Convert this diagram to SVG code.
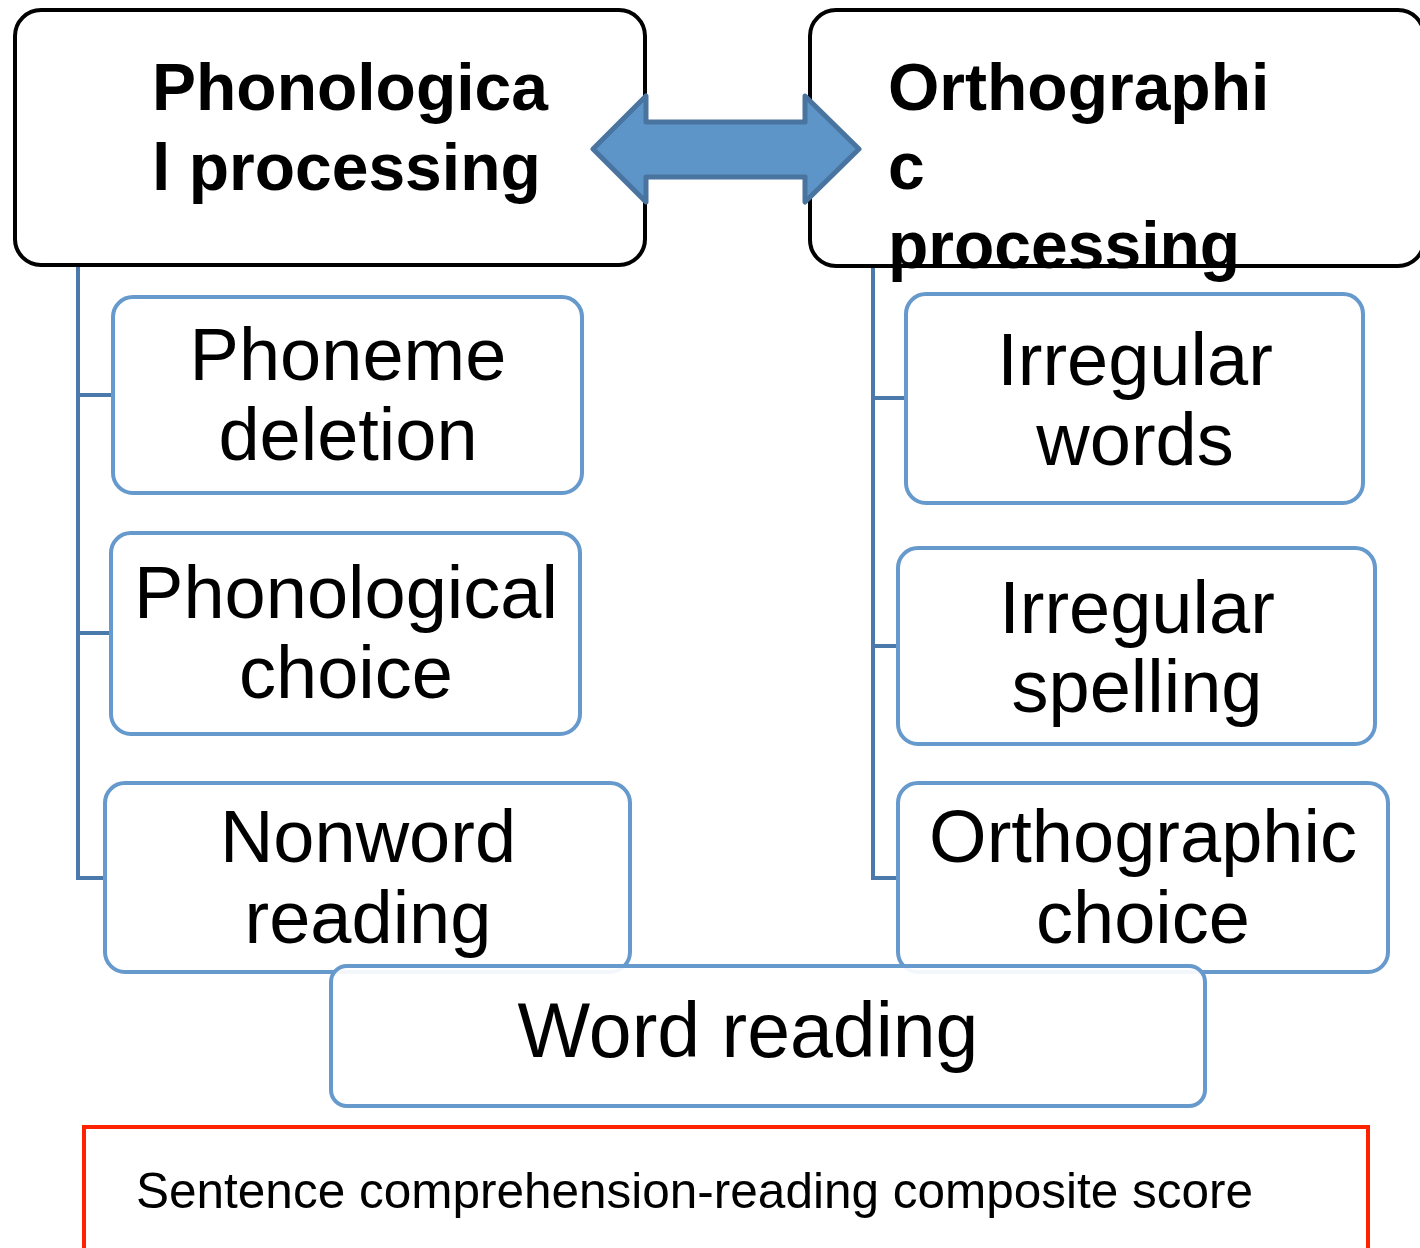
<svg xmlns="http://www.w3.org/2000/svg" width="1420" height="1248" viewBox="0 0 1420 1248">
<style>
.main{fill:#fff;stroke:#000;stroke-width:4}
.sub{fill:#fff;stroke:#6699cc;stroke-width:4}
.conn{fill:none;stroke:#4a7aab;stroke-width:4}
.hb{font-family:"Liberation Sans",Arial,sans-serif;font-weight:bold;font-size:66px;fill:#000}
.st{font-family:"Liberation Sans",Arial,sans-serif;font-size:74px;fill:#000;text-anchor:middle}
</style>
<rect width="1420" height="1248" fill="#fff"/>
<g id="connectors">
<path class="conn" d="M78 265V880M78 395H113M78 633H111M78 878H105"/>
<path class="conn" d="M873 266V880M873 398H906M873 646H898M873 878H898"/>
</g>
<g id="phonological">
<rect class="main" x="15" y="10" width="630" height="255" rx="26"/>
<text class="hb" x="152" y="110">Phonologica</text>
<text class="hb" x="152" y="190">l processing</text>
</g>
<g id="orthographic">
<rect class="main" x="810" y="10" width="614" height="256" rx="26"/>
<text class="hb" x="888" y="110">Orthographi</text>
<text class="hb" x="888" y="189">c</text>
<text class="hb" x="888" y="268">processing</text>
</g>
<g id="double-arrow">
<path d="M593 149L646 96V122H805V96L859 149L805 202V177H646V202Z" fill="#5d95c8" stroke="#4a74a0" stroke-width="5" stroke-linejoin="round"/>
</g>
<g id="phoneme-deletion">
<rect class="sub" x="113" y="297" width="469" height="196" rx="20"/>
<text class="st" x="348" y="380">Phoneme</text>
<text class="st" x="348" y="460">deletion</text>
</g>
<g id="phonological-choice">
<rect class="sub" x="111" y="533" width="469" height="201" rx="20"/>
<text class="st" x="346" y="618">Phonological</text>
<text class="st" x="346" y="698">choice</text>
</g>
<g id="nonword-reading">
<rect class="sub" x="105" y="783" width="525" height="189" rx="20"/>
<text class="st" x="368" y="862">Nonword</text>
<text class="st" x="368" y="943">reading</text>
</g>
<g id="irregular-words">
<rect class="sub" x="906" y="294" width="457" height="209" rx="20"/>
<text class="st" x="1135" y="385">Irregular</text>
<text class="st" x="1135" y="465">words</text>
</g>
<g id="irregular-spelling">
<rect class="sub" x="898" y="548" width="477" height="196" rx="20"/>
<text class="st" x="1137" y="633">Irregular</text>
<text class="st" x="1137" y="712">spelling</text>
</g>
<g id="orthographic-choice">
<rect class="sub" x="898" y="783" width="490" height="189" rx="20"/>
<text class="st" x="1143" y="862">Orthographic</text>
<text class="st" x="1143" y="943">choice</text>
</g>
<g id="word-reading">
<rect x="331" y="966" width="874" height="140" rx="16" fill="#fff" fill-opacity="0.92" stroke="#6699cc" stroke-width="4"/>
<text class="st" x="748" y="1057" style="font-size:77px">Word reading</text>
</g>
<g id="sentence-comprehension">
<rect x="84" y="1127" width="1284" height="140" fill="none" stroke="#ff2200" stroke-width="4"/>
<text x="136" y="1208" style="font-family:'Liberation Sans',Arial,sans-serif;font-size:49.5px;fill:#000">Sentence comprehension-reading composite score</text>
</g>
</svg>
